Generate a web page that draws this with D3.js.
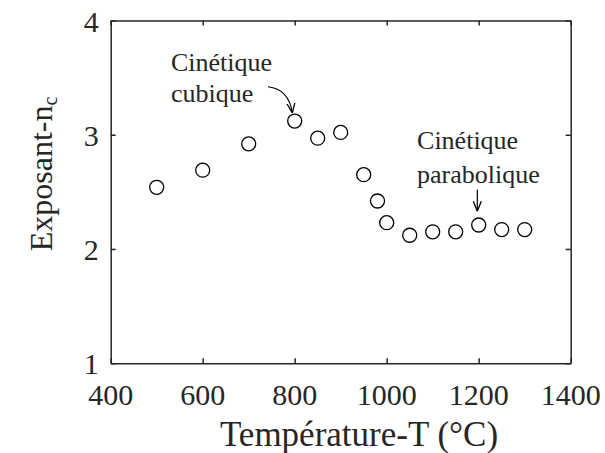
<!DOCTYPE html>
<html>
<head>
<meta charset="utf-8">
<script src="https://cdn.jsdelivr.net/npm/d3@7"></script>
<style>
  html, body { margin: 0; padding: 0; background: #fff; }
  svg { display: block; }
  text { font-family: "Liberation Serif", "Times New Roman", serif; fill: #262626; }
</style>
</head>
<body>
<svg id="chart" width="605" height="453"></svg>
<script>
// ---- data ----
const temperatures = [500, 600, 700, 800, 850, 900, 950, 980, 1000, 1050, 1100, 1150, 1200, 1250, 1300];
const exponents    = [2.54, 2.69, 2.92, 3.12, 2.97, 3.02, 2.65, 2.42, 2.23, 2.12, 2.15, 2.15, 2.21, 2.17, 2.17];
const xTicks = [400, 600, 800, 1000, 1200, 1400];
const yTicks = [1, 2, 3, 4];
const xLabel = "Température-T (°C)";
const yLabelMain = "Exposant-n";
const yLabelSub = "c";
// annotations (data coordinates)
const annotCubiqueLines = ["Cinétique", "cubique"];
const annotCubiquePos = [531, 3.56];
const annotCubiqueArrow = [[742, 3.42], [787, 3.40], [795, 3.19]];
const annotParaLines = ["Cinétique", "parabolique"];
const annotParaPos = [1066, 2.875];
const annotParaArrow = [[1197, 2.52], [1197, 2.33]];

// ---- layout ----
const svg = d3.select("#chart");
const mLeft = 110.7, mRight = 570.7, mTop = 20.5, mBottom = 363.2;
const x = d3.scaleLinear().domain([400, 1400]).range([mLeft, mRight]);
const y = d3.scaleLinear().domain([1, 4]).range([mBottom, mTop]);
const axisColor = "#262626";

svg.append("rect").attr("width", 605).attr("height", 453).attr("fill", "#fff");

const defs = svg.append("defs");
defs.append("marker").attr("id", "arrow").attr("viewBox", "0 0 10 10")
  .attr("refX", 10).attr("refY", 5).attr("markerWidth", 10).attr("markerHeight", 10)
  .attr("markerUnits", "userSpaceOnUse").attr("orient", "auto")
  .append("path").attr("d", "M0,1 L10,5 L0,9").attr("fill", "none")
  .attr("stroke", "#000").attr("stroke-width", 1.3);

// axes with inward ticks (MATLAB box style)
const tickLen = 5;
const gxB = svg.append("g").attr("transform", `translate(0,${mBottom})`)
  .call(d3.axisBottom(x).tickValues(xTicks).tickSizeInner(-tickLen).tickSizeOuter(0).tickPadding(0).tickFormat(""));
const gxT = svg.append("g").attr("transform", `translate(0,${mTop})`)
  .call(d3.axisTop(x).tickValues(xTicks).tickSizeInner(-tickLen).tickSizeOuter(0).tickFormat(""));
const gyL = svg.append("g").attr("transform", `translate(${mLeft},0)`)
  .call(d3.axisLeft(y).tickValues(yTicks).tickSizeInner(-tickLen).tickSizeOuter(0).tickFormat(""));
const gyR = svg.append("g").attr("transform", `translate(${mRight},0)`)
  .call(d3.axisRight(y).tickValues(yTicks).tickSizeInner(-tickLen).tickSizeOuter(0).tickFormat(""));
[gxB, gxT, gyL, gyR].forEach(g => {
  g.selectAll("path.domain").attr("stroke", axisColor).attr("stroke-width", 1.5);
  g.selectAll(".tick line").attr("stroke", axisColor).attr("stroke-width", 1.5);
});

// tick labels
svg.append("g").selectAll("text").data(xTicks).join("text")
  .attr("x", d => x(d)).attr("y", 405)
  .attr("text-anchor", "middle").attr("font-size", 30).text(d => d);
svg.append("g").selectAll("text").data(yTicks).join("text")
  .attr("x", mLeft - 12).attr("y", d => y(d) + 11)
  .attr("text-anchor", "end").attr("font-size", 30).text(d => d);

// axis labels
svg.append("text").attr("x", 359).attr("y", 446)
  .attr("text-anchor", "middle").attr("font-size", 35).text(xLabel);
const yl = svg.append("text").attr("transform", `translate(52,174) rotate(-90)`)
  .attr("text-anchor", "middle").attr("font-size", 32);
yl.append("tspan").text(yLabelMain);
yl.append("tspan").attr("font-size", 20).attr("dy", 5).text(yLabelSub);

// points
svg.append("g").selectAll("circle").data(temperatures).join("circle")
  .attr("cx", d => x(d)).attr("cy", (d, i) => y(exponents[i])).attr("r", 7)
  .attr("fill", "none").attr("stroke", "#000").attr("stroke-width", 1.3);

// annotations
svg.append("g").selectAll("text").data(annotCubiqueLines).join("text")
  .attr("x", x(annotCubiquePos[0])).attr("y", (d, i) => y(annotCubiquePos[1]) + i * 31)
  .attr("font-size", 26).attr("fill", "#000").text(d => d);
svg.append("g").selectAll("text").data(annotParaLines).join("text")
  .attr("x", x(annotParaPos[0])).attr("y", (d, i) => y(annotParaPos[1]) + i * 34)
  .attr("font-size", 26).attr("fill", "#000").text(d => d);

const cp = annotCubiqueArrow.map(p => [x(p[0]), y(p[1])]);
svg.append("path")
  .attr("d", `M${cp[0][0]},${cp[0][1]} Q${cp[1][0]},${cp[1][1]} ${cp[2][0]},${cp[2][1]}`)
  .attr("fill", "none").attr("stroke", "#000").attr("stroke-width", 1.2)
  .attr("marker-end", "url(#arrow)");
svg.append("path")
  .attr("d", d3.line()(annotParaArrow.map(p => [x(p[0]), y(p[1])])))
  .attr("fill", "none").attr("stroke", "#000").attr("stroke-width", 1.2)
  .attr("marker-end", "url(#arrow)");
</script>
</body>
</html>
